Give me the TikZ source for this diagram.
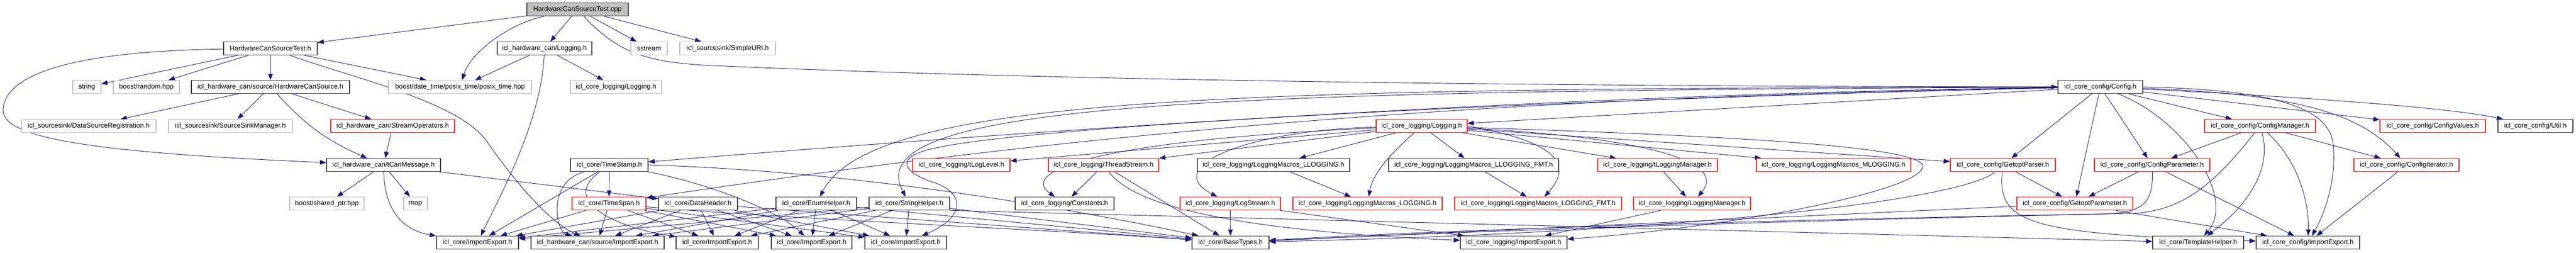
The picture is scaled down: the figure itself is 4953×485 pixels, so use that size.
\documentclass[tikz,border=0pt]{standalone}
\usepackage{fontspec}
\setmainfont{Liberation Sans}
\usetikzlibrary{arrows.meta,backgrounds}
\definecolor{edgeblue}{RGB}{25,25,112}
\definecolor{boxgray}{RGB}{191,191,191}
\definecolor{cutred}{RGB}{255,30,30}
\begin{document}
\begin{tikzpicture}[x=1pt,y=-1pt,
  filebox/.style={rectangle,inner sep=0pt,minimum height=25pt,line width=1.4pt,fill=white,font=\fontsize{13}{15}\selectfont},
  hdr/.style={filebox,draw=black!75},
  sys/.style={filebox,draw=boxgray},
  cut/.style={filebox,draw=cutred},
  src/.style={filebox,draw=black!75,fill=boxgray},
  dep/.style={draw=edgeblue,line width=0.9pt,-{Triangle[length=12pt,width=9pt]}}]
  \useasboundingbox (0,0) rectangle (4953,485);
  \node[src,minimum width=195pt] (cpp) at (1110.5,18) {HardwareCanSourceTest.cpp};
  \node[hdr,minimum width=180pt] (srctest) at (520,93) {HardwareCanSourceTest.h};
  \node[hdr,minimum width=182pt] (hwlog) at (1047,93) {icl\_hardware\_can/Logging.h};
  \node[sys,minimum width=70pt] (sstream) at (1248,93) {sstream};
  \node[sys,minimum width=184pt] (simpleuri) at (1399,93) {icl\_sourcesink/SimpleURI.h};
  \node[sys,minimum width=54pt] (string) at (167,167) {string};
  \node[sys,minimum width=127pt] (random) at (281.5,167) {boost/random.hpp};
  \node[hdr,minimum width=304pt] (hwsrc) at (520,167) {icl\_hardware\_can/source/HardwareCanSource.h};
  \node[sys,minimum width=275pt] (posix) at (884.5,167) {boost/date\_time/posix\_time/posix\_time.hpp};
  \node[sys,minimum width=175pt] (loggray) at (1184.5,167) {icl\_core\_logging/Logging.h};
  \node[hdr,minimum width=163pt] (config) at (4038.5,167) {icl\_core\_config/Config.h};
  \node[sys,minimum width=259pt] (dsreg) at (170.5,242) {icl\_sourcesink/DataSourceRegistration.h};
  \node[sys,minimum width=238pt] (ssmgr) at (443,242) {icl\_sourcesink/SourceSinkManager.h};
  \node[cut,minimum width=238pt] (streamops) at (755,242) {icl\_hardware\_can/StreamOperators.h};
  \node[cut,minimum width=175pt] (logred) at (2733.5,242) {icl\_core\_logging/Logging.h};
  \node[cut,minimum width=213pt] (cfgmgr) at (4345.5,242) {icl\_core\_config/ConfigManager.h};
  \node[cut,minimum width=203pt] (cfgvalues) at (4677.5,242) {icl\_core\_config/ConfigValues.h};
  \node[hdr,minimum width=144pt] (cfgutil) at (4875,242) {icl\_core\_config/Util.h};
  \node[hdr,minimum width=219pt] (canmsg) at (737.5,317) {icl\_hardware\_can/tCanMessage.h};
  \node[hdr,minimum width=149pt] (timestamp) at (1171.5,317) {icl\_core/TimeStamp.h};
  \node[cut,minimum width=187pt] (loglevel) at (1848.5,317) {icl\_core\_logging/tLogLevel.h};
  \node[cut,minimum width=212pt] (threadstream) at (2122,317) {icl\_core\_logging/ThreadStream.h};
  \node[hdr,minimum width=293pt] (macll) at (2448.5,317) {icl\_core\_logging/LoggingMacros\_LLOGGING.h};
  \node[hdr,minimum width=327pt] (macllf) at (2833.5,317) {icl\_core\_logging/LoggingMacros\_LLOGGING\_FMT.h};
  \node[cut,minimum width=230pt] (tlogmgr) at (3187,317) {icl\_core\_logging/tLoggingManager.h};
  \node[cut,minimum width=297pt] (macml) at (3525.5,317) {icl\_core\_logging/LoggingMacros\_MLOGGING.h};
  \node[cut,minimum width=202pt] (getoptparser) at (3851,317) {icl\_core\_config/GetoptParser.h};
  \node[cut,minimum width=222pt] (cfgparam) at (4138,317) {icl\_core\_config/ConfigParameter.h};
  \node[cut,minimum width=202pt] (cfgiter) at (4627,317) {icl\_core\_config/ConfigIterator.h};
  \node[sys,minimum width=143pt] (sharedptr) at (628.5,391) {boost/shared\_ptr.hpp};
  \node[sys,minimum width=46pt] (map) at (799,391) {map};
  \node[cut,minimum width=142pt] (timespan) at (1171,391) {icl\_core/TimeSpan.h};
  \node[hdr,minimum width=152pt] (dataheader) at (1342,391) {icl\_core/DataHeader.h};
  \node[hdr,minimum width=155pt] (enumhelper) at (1569.5,391) {icl\_core/EnumHelper.h};
  \node[hdr,minimum width=155pt] (stringhelper) at (1748.5,391) {icl\_core/StringHelper.h};
  \node[hdr,minimum width=190pt] (constants) at (2047,391) {icl\_core\_logging/Constants.h};
  \node[cut,minimum width=193pt] (logstream) at (2365.5,391) {icl\_core\_logging/LogStream.h};
  \node[cut,minimum width=287pt] (macl) at (2629.5,391) {icl\_core\_logging/LoggingMacros\_LOGGING.h};
  \node[cut,minimum width=321pt] (maclf) at (2957.5,391) {icl\_core\_logging/LoggingMacros\_LOGGING\_FMT.h};
  \node[cut,minimum width=225pt] (logmgr) at (3253.5,391) {icl\_core\_logging/LoggingManager.h};
  \node[cut,minimum width=223pt] (getoptparam) at (3989.5,391) {icl\_core\_config/GetoptParameter.h};
  \node[hdr,minimum width=158pt] (ie1) at (918,466) {icl\_core/ImportExport.h};
  \node[hdr,minimum width=256pt] (hwie) at (1149,466) {icl\_hardware\_can/source/ImportExport.h};
  \node[hdr,minimum width=158pt] (ie2) at (1379,466) {icl\_core/ImportExport.h};
  \node[hdr,minimum width=155pt] (ie3) at (1560.5,466) {icl\_core/ImportExport.h};
  \node[hdr,minimum width=157pt] (ie4) at (1741.5,466) {icl\_core/ImportExport.h};
  \node[hdr,minimum width=148pt] (basetypes) at (2366,466) {icl\_core/BaseTypes.h};
  \node[hdr,minimum width=205pt] (logie) at (2910.5,466) {icl\_core\_logging/ImportExport.h};
  \node[hdr,minimum width=175pt] (templatehelper) at (4226.5,466) {icl\_core/TemplateHelper.h};
  \node[hdr,minimum width=199pt] (cfgie) at (4437.5,466) {icl\_core\_config/ImportExport.h};
  \begin{scope}[on background layer]
  \draw[dep] (cpp) -- (srctest);
  \draw[dep] (cpp) .. controls (980,45) and (905,100) .. (posix);
  \draw[dep] (cpp) -- (hwlog);
  \draw[dep] (cpp) -- (sstream);
  \draw[dep] (cpp) -- (simpleuri);
  \draw[dep] (cpp) .. controls (1190,105) and (1250,118) .. (1350,125) .. controls (2000,155) and (3000,166) .. (config);
  \draw[dep] (srctest) -- (string);
  \draw[dep] (srctest) -- (random);
  \draw[dep] (srctest) -- (hwsrc);
  \draw[dep] (srctest) -- (posix);
  \draw[dep] (srctest) .. controls (150,98) and (10,140) .. (6,210) .. controls (3,262) and (150,292) .. (canmsg);
  \draw[dep] (srctest) .. controls (680,150) and (880,195) .. (935,270) .. controls (990,350) and (1060,430) .. (hwie);
  \draw[dep] (hwsrc) -- (dsreg);
  \draw[dep] (hwsrc) -- (ssmgr);
  \draw[dep] (hwsrc) to[bend right=12] (canmsg);
  \draw[dep] (hwsrc) -- (streamops);
  \draw[dep] (streamops) -- (canmsg);
  \draw[dep] (canmsg) -- (sharedptr);
  \draw[dep] (canmsg) -- (map);
  \draw[dep] (canmsg) .. controls (740,420) and (790,445) .. (ie1);
  \draw[dep] (canmsg) -- (dataheader);
  \draw[dep] (hwlog) -- (posix);
  \draw[dep] (hwlog) -- (loggray);
  \draw[dep] (hwlog) .. controls (1040,230) and (970,360) .. (ie1);
  \draw[dep] (timestamp) -- (timespan);
  \draw[dep] (timestamp) -- (ie1);
  \draw[dep] (timestamp) .. controls (1050,350) and (1070,445) .. (hwie);
  \draw[dep] (timestamp) .. controls (1070,390) and (1200,440) .. (ie2);
  \draw[dep] (timestamp.south east) .. controls (1350,350) and (1490,400) .. (ie3);
  \draw[dep] (timestamp.east) .. controls (1700,330) and (2150,420) .. (basetypes);
  \draw[dep] (timespan) -- (ie1);
  \draw[dep] (timespan) -- (hwie);
  \draw[dep] (timespan) -- (ie2);
  \draw[dep] (timespan) -- (ie3);
  \draw[dep] (timespan) -- (ie4);
  \draw[dep] (timespan) .. controls (1500,420) and (2000,440) .. (basetypes);
  \draw[dep] (dataheader) -- (ie1);
  \draw[dep] (dataheader) -- (hwie);
  \draw[dep] (dataheader) -- (ie2);
  \draw[dep] (dataheader) -- (ie3);
  \draw[dep] (dataheader) -- (ie4);
  \draw[dep] (dataheader) -- (basetypes);
  \draw[dep] (enumhelper) -- (ie1);
  \draw[dep] (enumhelper) -- (hwie);
  \draw[dep] (enumhelper) -- (ie2);
  \draw[dep] (enumhelper) -- (ie3);
  \draw[dep] (enumhelper) -- (ie4);
  \draw[dep] (enumhelper) -- (basetypes);
  \draw[dep] (stringhelper) -- (ie1);
  \draw[dep] (stringhelper) -- (hwie);
  \draw[dep] (stringhelper) -- (ie2);
  \draw[dep] (stringhelper) -- (ie3);
  \draw[dep] (stringhelper) -- (ie4);
  \draw[dep] (stringhelper) -- (basetypes);
  \draw[dep] (stringhelper.south east) -- (templatehelper);
  \draw[dep] (config) -- (logred);
  \draw[dep] (config) .. controls (3000,180) and (2000,250) .. (timestamp);
  \draw[dep] (config) .. controls (3000,185) and (2200,235) .. (timespan);
  \draw[dep] (config) .. controls (2400,170) and (1680,180) .. (enumhelper);
  \draw[dep] (config) .. controls (2400,175) and (1640,190) .. (stringhelper);
  \draw[dep] (config) .. controls (3000,190) and (2000,240) .. (1800,284) .. controls (1720,300) and (1730,330) .. (1800,352) .. controls (1860,375) and (1850,420) .. (ie4);
  \draw[dep] (logred) -- (loglevel);
  \draw[dep] (logred) -- (threadstream);
  \draw[dep] (logred) .. controls (2100,270) and (1960,330) .. (constants);
  \draw[dep] (logred) .. controls (2400,250) and (2230,320) .. (logstream);
  \draw[dep] (logred) -- (macll);
  \draw[dep] (logred) .. controls (2680,290) and (2640,330) .. (macl);
  \draw[dep] (logred) -- (macllf);
  \draw[dep] (logred.east) .. controls (2950,265) and (3040,300) .. (maclf);
  \draw[dep] (logred) -- (tlogmgr);
  \draw[dep] (logred) .. controls (3100,260) and (3330,300) .. (logmgr);
  \draw[dep] (logred) -- (macml);
  \draw[dep] (logred) -- (getoptparser);
  \draw[dep] (logred) .. controls (3300,260) and (3700,280) .. (3697,320) .. controls (3690,370) and (3300,440) .. (logie);
  \draw[dep] (threadstream) -- (constants);
  \draw[dep] (threadstream) .. controls (2170,380) and (2300,440) .. (logie);
  \draw[dep] (threadstream) -- (basetypes);
  \draw[dep] (logstream) -- (basetypes);
  \draw[dep] (logstream) -- (logie);
  \draw[dep] (macll) -- (macl);
  \draw[dep] (macllf) -- (maclf);
  \draw[dep] (tlogmgr) -- (logmgr);
  \draw[dep] (logmgr) -- (logie);
  \draw[dep] (getoptparser) .. controls (3780,380) and (3300,445) .. (basetypes);
  \draw[dep] (getoptparser) -- (getoptparam);
  \draw[dep] (getoptparser) .. controls (3840,430) and (3900,450) .. (cfgie);
  \draw[dep] (getoptparam) -- (basetypes);
  \draw[dep] (getoptparam) -- (cfgie);
  \draw[dep] (config) -- (getoptparser);
  \draw[dep] (config) -- (getoptparam);
  \draw[dep] (config) -- (cfgparam);
  \draw[dep] (config) .. controls (4200,230) and (4300,380) .. (templatehelper);
  \draw[dep] (config) -- (cfgmgr);
  \draw[dep] (config.east) .. controls (4350,172) and (4470,200) .. (4485,270) .. controls (4495,340) and (4470,410) .. (cfgie);
  \draw[dep] (config) -- (cfgvalues);
  \draw[dep] (config) .. controls (4400,185) and (4700,205) .. (cfgutil);
  \draw[dep] (config) .. controls (4420,180) and (4540,220) .. (cfgiter);
  \draw[dep] (cfgmgr) -- (cfgparam);
  \draw[dep] (cfgmgr) .. controls (4365,310) and (4340,380) .. (templatehelper);
  \draw[dep] (cfgmgr) .. controls (4420,310) and (4440,390) .. (cfgie);
  \draw[dep] (cfgmgr) -- (cfgiter);
  \draw[dep] (cfgmgr) .. controls (4260,350) and (4200,405) .. (4100,410) .. controls (3500,420) and (2800,440) .. (basetypes);
  \draw[dep] (cfgparam) -- (getoptparam);
  \draw[dep] (cfgparam) -- (cfgie);
  \draw[dep] (cfgparam) .. controls (4140,390) and (4120,408) .. (4050,411) .. controls (3400,425) and (2800,445) .. (basetypes);
  \draw[dep] (cfgiter) -- (cfgie);
  \end{scope}
\end{tikzpicture}
\end{document}
